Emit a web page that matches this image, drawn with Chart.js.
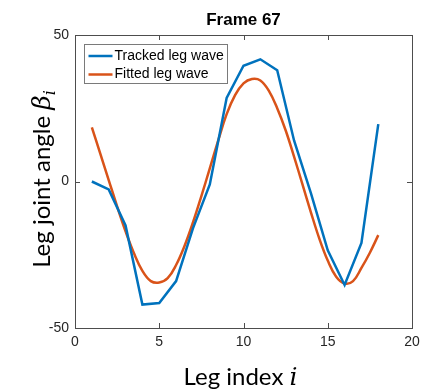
<!DOCTYPE html>
<html lang="en">
  <head>
    <meta charset="UTF-8" />
    <title>Frame 67</title>
    <script src="https://cdn.jsdelivr.net/npm/chart.js"></script>
    <style>
      body {
        margin: 0;
        background-color: #ffffff;
      }
      .graph {
        width: 427px;
        height: 391px;
      }
    </style>
  </head>
  <body>
    <div class="graph">
      <canvas id="legChart" width="427" height="391"></canvas>
    </div>
    <script>
      // leg index and tracked angles
      const legIndex = [1, 2, 3, 4, 5, 6, 7, 8, 9, 10, 11, 12, 13, 14, 15, 16, 17, 18];
      const trackedWave = [0, -2.7, -15, -42, -41.5, -34, -16, -1, 28.5, 39.5, 41.7, 38, 14, -4, -23.5, -35.3, -21, 19.6];

      // fitted curve, sampled every half step
      const fitIndex = [1, 1.5, 2, 2.5, 3, 3.5, 4, 4.5, 5, 5.5, 6, 6.5, 7, 7.5, 8, 8.5, 9, 9.5, 10,
                        10.5, 11, 11.5, 12, 12.5, 13, 13.5, 14, 14.5, 15, 15.5, 16, 16.5, 17, 17.5, 18];
      const fittedWave = [18.5, 9.5, 0.5, -8.5, -17, -24.5, -30.5, -34, -34.5, -33, -28.5, -22, -14, -5, 4.5,
                          14, 23, 29.5, 33.5, 35, 34.5, 31, 25, 17.5, 8.5, -1, -10.5, -19.5, -27, -32.5,
                          -34.8, -34, -29.5, -24.3, -18.3];

      const seriesNames = ["Tracked leg wave", "Fitted leg wave"];
      const chartTitle = "Frame 67";
      const xTicks = [0, 5, 10, 15, 20];
      const yTicks = [-50, 0, 50];

      const axisColor = "#4d4d4d";

      // MATLAB-ish box, inward ticks, legend and titles
      const decor = {
        id: "decor",
        afterDatasetsDraw(chart) {
          const ctx = chart.ctx;
          const a = chart.chartArea;
          const xs = chart.scales.x;
          const ys = chart.scales.y;
          ctx.save();
          ctx.strokeStyle = axisColor;
          ctx.lineWidth = 1;
          ctx.strokeRect(Math.round(a.left) + 0.5, Math.round(a.top) + 0.5,
                         Math.round(a.right - a.left), Math.round(a.bottom - a.top));
          ctx.beginPath();
          xTicks.forEach(function (v) {
            const px = Math.round(xs.getPixelForValue(v)) + 0.5;
            ctx.moveTo(px, a.bottom); ctx.lineTo(px, a.bottom - 5);
            ctx.moveTo(px, a.top); ctx.lineTo(px, a.top + 5);
          });
          yTicks.forEach(function (v) {
            const py = Math.round(ys.getPixelForValue(v)) + 0.5;
            ctx.moveTo(a.left, py); ctx.lineTo(a.left + 5, py);
            ctx.moveTo(a.right, py); ctx.lineTo(a.right - 5, py);
          });
          ctx.stroke();

          // title over the axes
          ctx.fillStyle = "#000000";
          ctx.font = "bold 17px 'Liberation Sans', Arial, sans-serif";
          ctx.textAlign = "center";
          ctx.textBaseline = "alphabetic";
          ctx.fillText(chartTitle, (a.left + a.right) / 2, 25);

          // legend
          const lx = 84.5, ly = 44.5, lw = 143, lh = 39;
          ctx.fillStyle = "#ffffff";
          ctx.fillRect(lx, ly, lw, lh);
          ctx.strokeStyle = "#7a7a7a";
          ctx.strokeRect(lx, ly, lw, lh);
          chart.data.datasets.forEach(function (ds, i) {
            const y = ly + 11.5 + i * 18.5;
            ctx.strokeStyle = ds.borderColor;
            ctx.lineWidth = 2.5;
            ctx.beginPath();
            ctx.moveTo(lx + 4, y);
            ctx.lineTo(lx + 28, y);
            ctx.stroke();
            ctx.fillStyle = "#000000";
            ctx.font = "14px 'Liberation Sans', Arial, sans-serif";
            ctx.textBaseline = "middle";
            ctx.textAlign = "left";
            ctx.fillText(ds.label, lx + 30, y);
          });

          // x axis title: "Leg index i"
          ctx.fillStyle = "#000000";
          ctx.textBaseline = "alphabetic";
          ctx.textAlign = "left";
          const mainFont = "24px Lato, 'Open Sans', sans-serif";
          const italFont = "italic 25px 'DejaVu Serif', 'Liberation Serif', serif";
          ctx.font = mainFont;
          const xPart = "Leg index ";
          const w1 = ctx.measureText(xPart).width;
          ctx.font = italFont;
          const w2 = ctx.measureText("i").width;
          let sx = 240.5 - (w1 + w2) / 2;
          ctx.font = mainFont;
          ctx.fillText(xPart, sx, 385);
          ctx.font = italFont;
          ctx.fillText("i", sx + w1, 385);

          // y axis title: "Leg joint angle β_i"
          ctx.translate(50, 179);
          ctx.rotate(-Math.PI / 2);
          ctx.font = mainFont;
          const yPart = "Leg joint angle ";
          const v1 = ctx.measureText(yPart).width;
          ctx.font = italFont;
          const v2 = ctx.measureText("β").width;
          const subFont = "italic 16px 'DejaVu Serif', 'Liberation Serif', serif";
          ctx.font = subFont;
          const v3 = ctx.measureText("i").width;
          sx = -(v1 + v2 + v3) / 2;
          ctx.font = mainFont;
          ctx.fillText(yPart, sx, 0);
          ctx.font = italFont;
          ctx.fillText("β", sx + v1, 0);
          ctx.font = subFont;
          ctx.fillText("i", sx + v1 + v2, 5);
          ctx.restore();
        },
      };

      const ctx = document.getElementById("legChart").getContext("2d");
      const legChart = new Chart(ctx, {
        type: "line",
        data: {
          datasets: [
            {
              label: seriesNames[0],
              data: legIndex.map((x, i) => ({ x: x, y: trackedWave[i] })),
              borderColor: "#0072BD",
              borderWidth: 2.5,
              pointRadius: 0,
              tension: 0,
            },
            {
              label: seriesNames[1],
              data: fitIndex.map((x, i) => ({ x: x, y: fittedWave[i] })),
              borderColor: "#D95319",
              borderWidth: 2.5,
              pointRadius: 0,
              tension: 0.4,
            },
          ],
        },
        options: {
          responsive: false,
          animation: false,
          layout: {
            padding: { left: 0, right: 15, top: 35, bottom: 0 },
          },
          plugins: {
            legend: { display: false },
            tooltip: { enabled: false },
            title: { display: false },
          },
          scales: {
            x: {
              type: "linear",
              min: 0,
              max: 20,
              grid: { display: false, drawTicks: false },
              border: { display: false },
              ticks: {
                stepSize: 5,
                padding: 6,
                color: "#262626",
                font: { family: "'Liberation Sans', Arial, sans-serif", size: 14 },
              },
              afterFit(scale) {
                scale.height = 63;
              },
            },
            y: {
              min: -50,
              max: 50,
              grid: { display: false, drawTicks: false },
              border: { display: false },
              ticks: {
                stepSize: 50,
                padding: 6,
                color: "#262626",
                font: { family: "'Liberation Sans', Arial, sans-serif", size: 14 },
              },
              afterFit(scale) {
                scale.width = 75;
              },
            },
          },
        },
        plugins: [decor],
      });
    </script>
  </body>
</html>
